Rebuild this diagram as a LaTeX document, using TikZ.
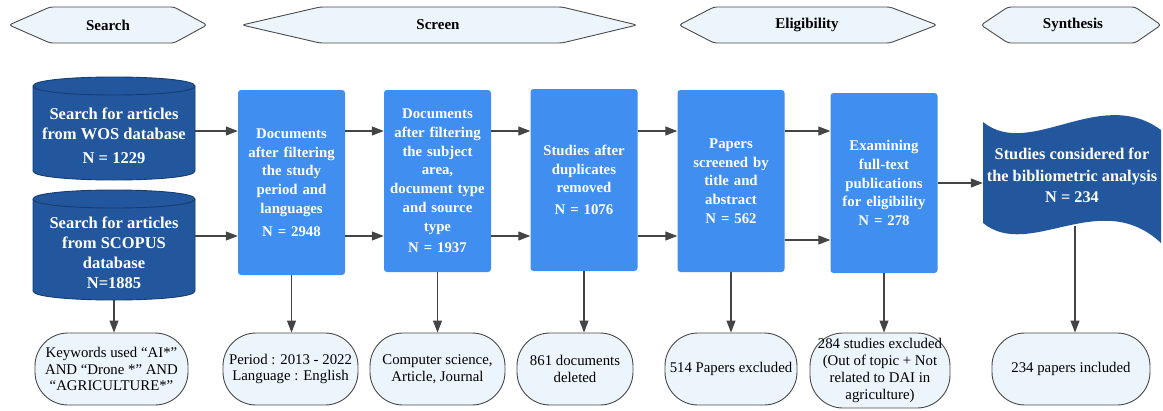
\documentclass[tikz,border=0pt]{standalone}
\usepackage{fontspec}
\setmainfont{Liberation Serif}
\usetikzlibrary{arrows.meta}
\definecolor{dbblue}{HTML}{22579E}
\definecolor{dbedge}{HTML}{163C74}
\definecolor{boxblue}{HTML}{3F8EF0}
\definecolor{lightfill}{HTML}{ECF4FC}
\definecolor{edgegray}{HTML}{4A4A4A}
\definecolor{arrgray}{HTML}{444444}
\begin{document}
\begin{tikzpicture}[x=1pt,y=-1pt,
  hdrshape/.style={draw=edgegray, fill=lightfill, line width=0.9pt, rounded corners=3pt},
  hdrtext/.style={font=\bfseries\fontsize{15}{18}\selectfont, inner sep=0pt},
  dbshape/.style={fill=dbblue, draw=dbedge, line width=0.9pt},
  dbtext/.style={text=white, font=\bfseries\fontsize{16.5}{20}\selectfont, align=center, inner sep=0pt, minimum width=162pt},
  bluebox/.style={fill=boxblue, rounded corners=3pt, text=white, font=\bfseries\fontsize{14.8}{18.7}\selectfont, align=center, text width=102pt, inner sep=2.5pt, minimum height=182pt},
  outbox/.style={fill=lightfill, draw=edgegray, line width=0.9pt, rounded corners=33pt, font=\fontsize{14.8}{16.5}\selectfont, align=center, minimum height=72pt, inner sep=2pt},
  arr/.style={draw=arrgray, line width=1.1pt, -{Triangle[length=12pt,width=9pt]}}
]
\useasboundingbox (0,0) rectangle (1163,410);

% ---------- phase headers ----------
\draw[hdrshape] (9,25) -- (50,7) -- (174,7) -- (207,25) -- (174,43) -- (50,43) -- cycle;
\node[hdrtext] (hsearch) at (108,25) {Search};
\draw[hdrshape] (242,25) -- (320,7) -- (562,7) -- (637,25) -- (562,43) -- (320,43) -- cycle;
\node[hdrtext] (hscreen) at (438,25) {Screen};
\draw[hdrshape] (679,25) -- (714,7) -- (890,7) -- (937,25) -- (890,43) -- (714,43) -- cycle;
\node[hdrtext] (helig) at (807,25) {Eligibility};
\draw[hdrshape] (981,25) -- (1008,7) -- (1135,7) -- (1161,25) -- (1135,43) -- (1008,43) -- cycle;
\node[hdrtext] (hsynth) at (1073,25) {Synthesis};

% ---------- databases ----------
\draw[dbshape] (33,86) -- (33,171) .. controls (33,183) and (195,183) .. (195,171) -- (195,86) .. controls (195,74) and (33,74) .. (33,86) -- cycle;
\draw[dbedge, line width=0.9pt] (33,86) .. controls (33,98) and (195,98) .. (195,86);
\node[dbtext, minimum height=100pt] (db1) at (114,136) {Search for articles\\from WOS database\\[4pt]N = 1229};

\draw[dbshape] (33,199) -- (33,291) .. controls (33,303) and (195,303) .. (195,291) -- (195,199) .. controls (195,187) and (33,187) .. (33,199) -- cycle;
\draw[dbedge, line width=0.9pt] (33,199) .. controls (33,211) and (195,211) .. (195,199);
\node[dbtext, minimum height=110pt] (db2) at (114,253) {Search for articles\\from SCOPUS\\database\\N=1885};

% ---------- process boxes ----------
\node[bluebox, minimum height=185pt] (b1) at (291.5,182.5) {Documents\\after filtering\\the study\\period and\\languages\\[4pt]N = 2948};
\node[bluebox] (b2) at (437.5,181) {Documents\\after filtering\\the subject\\area,\\document type\\and source\\type\\[3pt]N = 1937};
\node[bluebox] (b3) at (584,180) {Studies after\\duplicates\\removed\\[3pt]N = 1076};
\node[bluebox] (b4) at (731,181) {Papers\\screened by\\title and\\abstract\\N = 562};
\node[bluebox, minimum height=180pt] (b5) at (884,183) {Examining\\full-text\\publications\\for eligibility\\N = 278};

% ---------- synthesis (wave) ----------
\fill[dbblue] (983,122) .. controls (1030,160) and (1100,85) .. (1161,130)
  -- (1161,243) .. controls (1100,186) and (1030,261) .. (983,223) -- cycle;
\node[text=white, font=\bfseries\fontsize{16.3}{21.5}\selectfont, align=center, inner sep=0pt, minimum width=178pt, minimum height=101pt] (wave) at (1072,175.5) {Studies considered for\\the bibliometric analysis\\N = 234};

% ---------- outcome nodes ----------
\node[outbox, minimum width=153pt] (o1) at (111.5,369) {Keywords used “AI*”\\AND “Drone *” AND\\“AGRICULTURE*”};
\node[outbox, minimum width=135pt] (o2) at (290.5,369) {Period : 2013 - 2022\\Language : English};
\node[outbox, minimum width=135pt] (o3) at (437.5,369) {Computer science,\\Article, Journal};
\node[outbox, minimum width=116pt] (o4) at (575,369) {861 documents\\deleted};
\node[outbox, minimum width=132pt] (o5) at (731,369) {514 Papers excluded};
\node[outbox, minimum width=140pt, minimum height=75pt, font=\fontsize{14.8}{17.3}\selectfont] (o6) at (880,370.5) {284 studies excluded\\(Out of topic + Not\\related to DAI in\\agriculture)};
\node[outbox, minimum width=158pt] (o7) at (1071,369) {234 papers included};

% ---------- connectors ----------
\coordinate (r1) at (0,131);
\coordinate (r2) at (0,236);
\coordinate (r3) at (0,183);
\draw[arr] (db1.east |- r1) -- (b1.west |- r1);
\draw[arr] (db2.east |- r2) -- (b1.west |- r2);
\draw[arr] (b1.east |- r1) -- (b2.west |- r1);
\draw[arr] (b1.east |- r2) -- (b2.west |- r2);
\draw[arr] (b2.east |- r1) -- (b3.west |- r1);
\draw[arr] (b2.east |- r2) -- (b3.west |- r2);
\draw[arr] (b3.east |- r1) -- (b4.west |- r1);
\draw[arr] (b3.east |- r2) -- (b4.west |- r2);
\draw[arr] (b4.east |- r1) -- (b5.west |- r1);
\draw[arr] ([yshift=-4pt]b4.east |- r2) -- ([yshift=-4pt]b5.west |- r2);
\draw[arr] (b5.east |- r3) -- (wave.west |- r3);

\coordinate (db2bot) at (114,300);
\draw[arr] (db2bot) -- (db2bot |- o1.north);
\draw[arr] (b1.south) -- (b1.south |- o2.north);
\draw[arr] (b2.south) -- (b2.south |- o3.north);
\draw[arr] (b3.south) -- (b3.south |- o4.north);
\draw[arr] (b4.south) -- (b4.south |- o5.north);
\draw[arr] (b5.south) -- (b5.south |- o6.north);
\draw[arr] ([xshift=3pt]wave.south) -- ([xshift=3pt]wave.south |- o7.north);
\end{tikzpicture}
\end{document}
